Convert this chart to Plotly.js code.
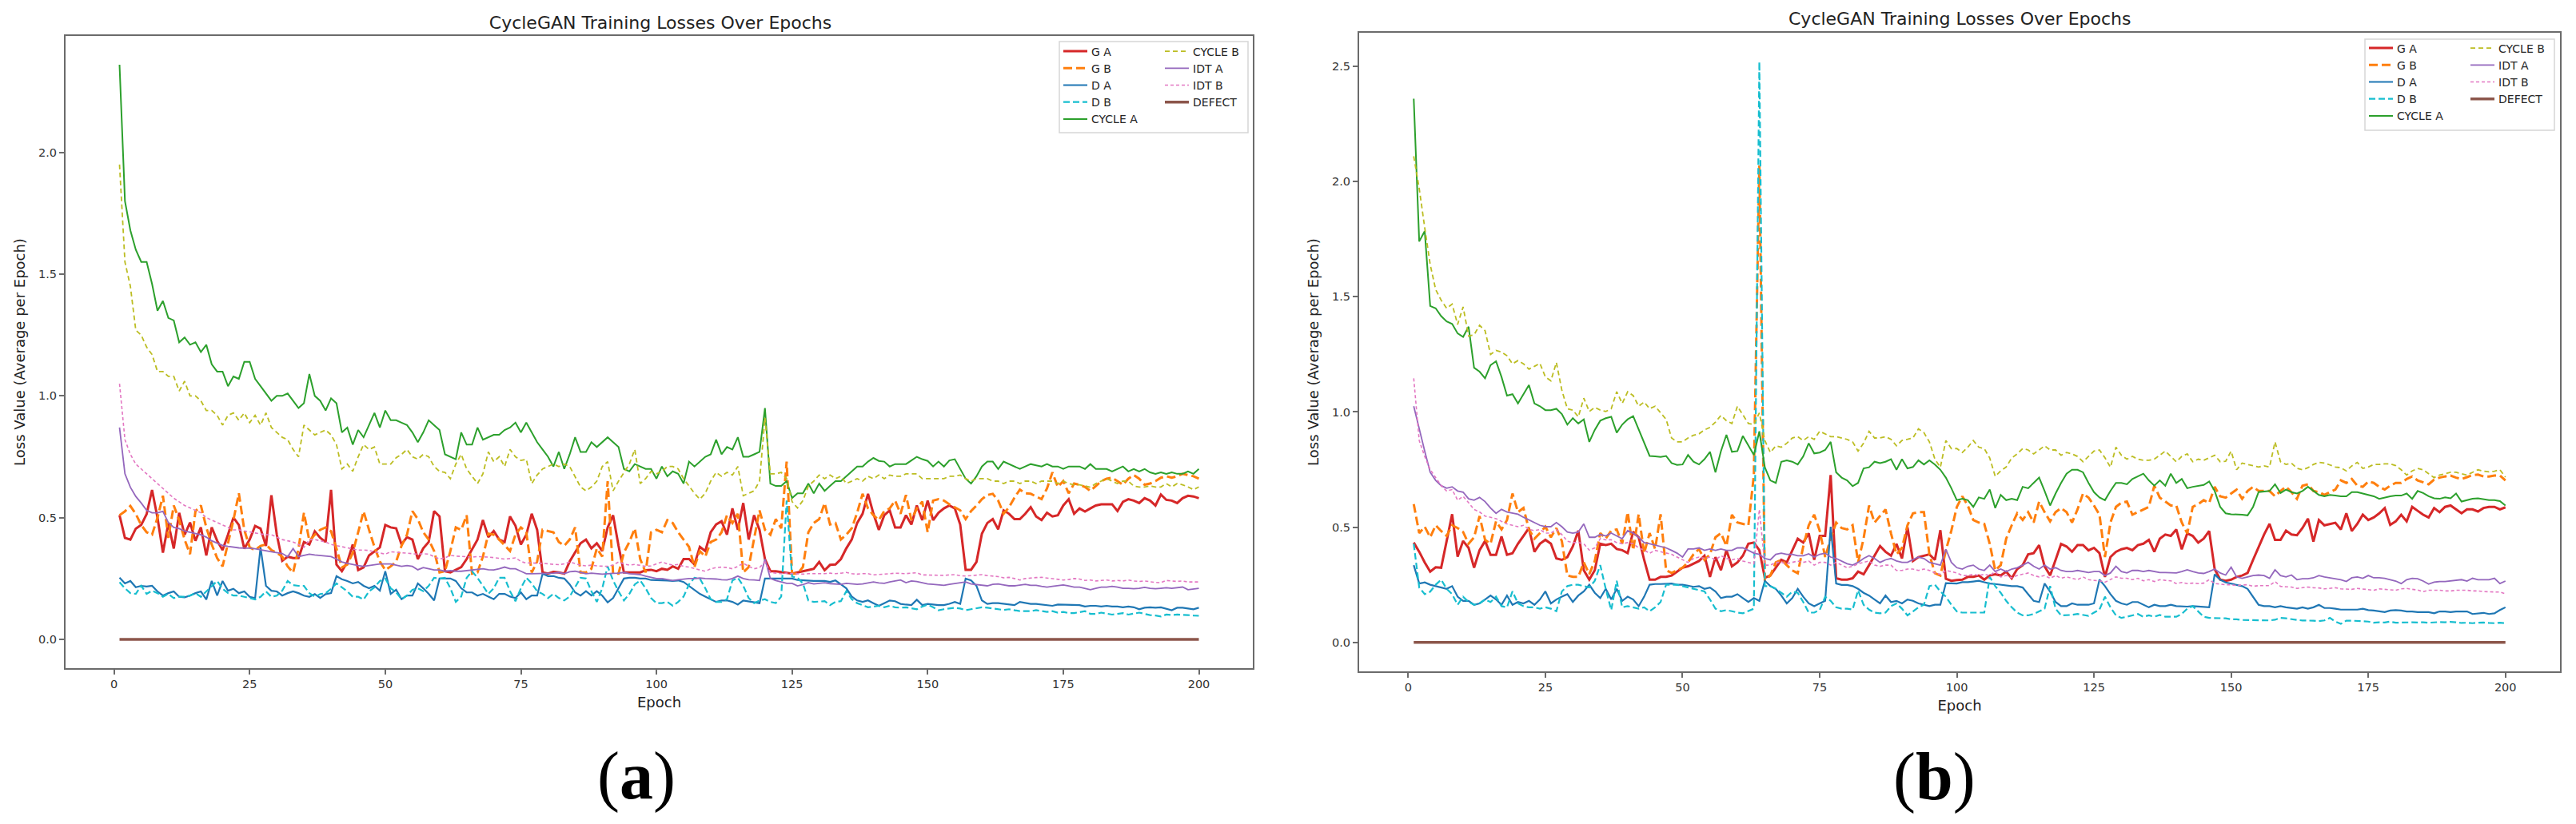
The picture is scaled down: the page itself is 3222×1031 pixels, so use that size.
<!DOCTYPE html>
<html>
<head>
<meta charset="utf-8">
<script src="https://cdn.plot.ly/plotly-3.0.1.min.js"></script>
<style>
html,body{margin:0;padding:0;background:#fff;}
#chart{width:3222px;height:1031px;}
</style>
</head>
<body>
<div id="chart"></div>
<script>
// ---------- data ----------
const epochs = Array.from({length: 200}, (_, i) => i + 1);

const seriesNames = ['G A','G B','D A','D B','CYCLE A','CYCLE B','IDT A','IDT B','DEFECT'];
const panelLabels = ['(a)','(b)'];
const chartTitle = 'CycleGAN Training Losses Over Epochs';
const xLabel = 'Epoch';
const yLabel = 'Loss Value (Average per Epoch)';

// ----- panel (a) -----
const aGA = [
0.51,0.417,0.41,0.455,0.47,0.515,0.614,0.50,0.356,0.477,
0.373,0.52,0.43,0.48,0.405,0.46,0.345,0.46,0.405,0.367,
0.43,0.50,0.47,0.373,0.41,0.466,0.455,0.384,0.592,0.43,
0.323,0.34,0.334,0.334,0.40,0.39,0.444,0.417,0.40,0.614,
0.307,0.28,0.318,0.39,0.285,0.296,0.345,0.362,0.378,0.47,
0.46,0.456,0.39,0.42,0.41,0.33,0.374,0.40,0.527,0.505,
0.28,0.275,0.286,0.297,0.33,0.368,0.41,0.49,0.42,0.445,
0.41,0.40,0.505,0.467,0.39,0.43,0.516,0.45,0.275,0.27,
0.277,0.275,0.27,0.32,0.357,0.395,0.41,0.374,0.395,0.363,
0.46,0.51,0.385,0.275,0.275,0.275,0.275,0.284,0.286,0.28,
0.29,0.286,0.30,0.29,0.33,0.33,0.308,0.38,0.363,0.44,
0.472,0.485,0.43,0.538,0.45,0.56,0.41,0.51,0.45,0.33,
0.28,0.28,0.277,0.275,0.27,0.275,0.28,0.286,0.29,0.318,
0.284,0.306,0.308,0.33,0.374,0.41,0.478,0.516,0.598,0.516,
0.45,0.51,0.53,0.46,0.46,0.51,0.472,0.55,0.49,0.57,
0.49,0.52,0.538,0.55,0.538,0.472,0.286,0.286,0.318,0.434,
0.478,0.494,0.452,0.53,0.516,0.494,0.494,0.516,0.543,0.505,
0.49,0.52,0.505,0.51,0.55,0.576,0.516,0.538,0.525,0.538,
0.55,0.555,0.555,0.555,0.527,0.565,0.576,0.57,0.56,0.58,
0.57,0.55,0.595,0.573,0.57,0.56,0.58,0.59,0.587,0.58];

const aGB = [
0.51,0.526,0.548,0.515,0.47,0.44,0.43,0.50,0.59,0.417,
0.55,0.49,0.41,0.35,0.526,0.55,0.46,0.39,0.334,0.30,
0.395,0.49,0.60,0.45,0.378,0.367,0.384,0.39,0.367,0.356,
0.34,0.30,0.274,0.373,0.52,0.405,0.43,0.45,0.46,0.444,
0.373,0.296,0.307,0.356,0.44,0.526,0.45,0.38,0.32,0.285,
0.30,0.32,0.385,0.43,0.527,0.494,0.44,0.41,0.363,0.275,
0.28,0.363,0.46,0.45,0.51,0.27,0.275,0.34,0.434,0.43,
0.41,0.385,0.363,0.43,0.46,0.44,0.275,0.32,0.45,0.445,
0.44,0.40,0.385,0.41,0.46,0.275,0.275,0.29,0.374,0.34,
0.65,0.27,0.27,0.357,0.40,0.456,0.33,0.275,0.44,0.45,
0.44,0.49,0.478,0.44,0.41,0.38,0.297,0.363,0.34,0.40,
0.41,0.44,0.51,0.478,0.516,0.275,0.297,0.41,0.53,0.45,
0.43,0.494,0.456,0.73,0.27,0.27,0.297,0.44,0.478,0.494,
0.56,0.472,0.478,0.41,0.43,0.456,0.52,0.598,0.538,0.51,
0.49,0.527,0.538,0.57,0.516,0.593,0.49,0.538,0.566,0.44,
0.57,0.576,0.57,0.555,0.543,0.53,0.494,0.527,0.55,0.576,
0.593,0.598,0.57,0.516,0.543,0.582,0.615,0.60,0.598,0.587,
0.576,0.62,0.686,0.626,0.65,0.60,0.64,0.635,0.626,0.61,
0.63,0.65,0.66,0.664,0.65,0.635,0.66,0.675,0.66,0.635,
0.64,0.65,0.664,0.67,0.664,0.67,0.68,0.675,0.67,0.66];

const aDA = [
0.254,0.23,0.24,0.214,0.22,0.217,0.22,0.197,0.18,0.19,
0.197,0.175,0.173,0.18,0.19,0.197,0.164,0.24,0.18,0.24,
0.20,0.208,0.19,0.197,0.175,0.17,0.378,0.22,0.20,0.197,
0.18,0.19,0.197,0.19,0.18,0.175,0.186,0.17,0.186,0.19,
0.26,0.247,0.24,0.23,0.236,0.22,0.21,0.22,0.20,0.28,
0.187,0.204,0.165,0.18,0.18,0.23,0.21,0.187,0.16,0.25,
0.25,0.25,0.24,0.21,0.193,0.193,0.18,0.187,0.176,0.165,
0.187,0.187,0.176,0.17,0.193,0.165,0.18,0.18,0.27,0.26,
0.26,0.253,0.25,0.226,0.193,0.18,0.198,0.18,0.198,0.18,
0.152,0.17,0.21,0.25,0.253,0.253,0.25,0.25,0.244,0.244,
0.242,0.242,0.24,0.242,0.236,0.22,0.204,0.187,0.176,0.165,
0.154,0.16,0.16,0.154,0.143,0.16,0.157,0.154,0.149,0.25,
0.25,0.25,0.25,0.25,0.25,0.244,0.242,0.242,0.24,0.24,
0.24,0.236,0.242,0.226,0.21,0.176,0.16,0.154,0.16,0.149,
0.138,0.149,0.16,0.157,0.146,0.143,0.141,0.163,0.141,0.146,
0.143,0.141,0.141,0.146,0.154,0.146,0.25,0.242,0.22,0.16,
0.146,0.149,0.149,0.146,0.143,0.141,0.154,0.149,0.146,0.146,
0.143,0.141,0.138,0.143,0.143,0.141,0.141,0.141,0.135,0.138,
0.138,0.135,0.138,0.135,0.135,0.132,0.135,0.132,0.124,0.13,
0.132,0.13,0.132,0.127,0.12,0.13,0.13,0.127,0.124,0.13];

const aDB = [
0.235,0.21,0.19,0.187,0.22,0.187,0.20,0.19,0.175,0.187,
0.17,0.175,0.175,0.18,0.19,0.175,0.197,0.22,0.24,0.208,
0.19,0.18,0.18,0.175,0.17,0.164,0.175,0.197,0.175,0.18,
0.20,0.24,0.223,0.22,0.22,0.19,0.175,0.186,0.19,0.208,
0.23,0.214,0.197,0.175,0.175,0.164,0.197,0.214,0.24,0.25,
0.21,0.193,0.165,0.18,0.204,0.21,0.198,0.22,0.253,0.25,
0.253,0.21,0.154,0.176,0.253,0.28,0.253,0.22,0.187,0.21,
0.253,0.253,0.198,0.157,0.21,0.253,0.23,0.198,0.187,0.17,
0.187,0.17,0.16,0.176,0.215,0.253,0.25,0.198,0.154,0.21,
0.30,0.242,0.198,0.16,0.187,0.226,0.242,0.21,0.17,0.149,
0.149,0.154,0.138,0.154,0.176,0.226,0.253,0.25,0.21,0.165,
0.154,0.154,0.165,0.242,0.253,0.22,0.17,0.149,0.16,0.165,
0.154,0.149,0.176,0.57,0.258,0.253,0.23,0.16,0.154,0.155,
0.157,0.141,0.154,0.157,0.198,0.165,0.149,0.141,0.132,0.135,
0.138,0.132,0.138,0.132,0.13,0.132,0.127,0.124,0.135,0.143,
0.132,0.12,0.124,0.127,0.13,0.127,0.12,0.124,0.127,0.132,
0.13,0.127,0.124,0.121,0.124,0.12,0.116,0.116,0.116,0.12,
0.116,0.113,0.116,0.11,0.113,0.108,0.108,0.113,0.116,0.105,
0.105,0.11,0.105,0.102,0.105,0.108,0.102,0.105,0.11,0.105,
0.10,0.098,0.094,0.102,0.10,0.102,0.102,0.10,0.098,0.097];

const aCA = [
2.36,1.80,1.68,1.60,1.55,1.55,1.46,1.35,1.39,1.32,
1.31,1.22,1.24,1.21,1.22,1.18,1.21,1.13,1.10,1.10,
1.04,1.08,1.07,1.14,1.14,1.07,1.04,1.01,0.98,1.00,
1.00,1.01,0.98,0.95,0.97,1.09,1.00,0.98,0.94,0.99,
0.97,0.85,0.87,0.80,0.86,0.83,0.88,0.93,0.87,0.94,
0.90,0.90,0.89,0.88,0.85,0.81,0.85,0.90,0.88,0.86,
0.76,0.75,0.74,0.85,0.80,0.80,0.87,0.82,0.83,0.84,
0.84,0.86,0.87,0.89,0.85,0.89,0.85,0.81,0.78,0.75,
0.71,0.77,0.70,0.76,0.83,0.77,0.77,0.81,0.79,0.81,
0.83,0.81,0.79,0.70,0.69,0.72,0.71,0.70,0.70,0.66,
0.71,0.67,0.69,0.68,0.64,0.73,0.71,0.73,0.75,0.76,
0.82,0.76,0.79,0.78,0.83,0.75,0.75,0.76,0.77,0.95,
0.64,0.63,0.63,0.65,0.58,0.60,0.60,0.64,0.60,0.64,
0.61,0.63,0.65,0.65,0.67,0.69,0.71,0.71,0.73,0.745,
0.733,0.73,0.71,0.72,0.72,0.72,0.735,0.75,0.74,0.733,
0.71,0.73,0.71,0.735,0.74,0.70,0.66,0.64,0.67,0.71,
0.73,0.73,0.70,0.73,0.72,0.71,0.70,0.71,0.72,0.715,
0.71,0.72,0.71,0.71,0.70,0.71,0.71,0.71,0.70,0.72,
0.70,0.70,0.70,0.69,0.70,0.71,0.69,0.70,0.69,0.70,
0.686,0.68,0.686,0.68,0.686,0.68,0.68,0.69,0.68,0.70];

const aCB = [
1.95,1.55,1.45,1.27,1.25,1.20,1.17,1.10,1.10,1.08,
1.08,1.02,1.06,1.00,1.00,0.98,0.94,0.94,0.92,0.88,
0.92,0.93,0.90,0.93,0.89,0.92,0.88,0.93,0.87,0.85,
0.83,0.82,0.78,0.75,0.88,0.86,0.84,0.85,0.86,0.84,
0.80,0.70,0.72,0.69,0.75,0.80,0.78,0.79,0.72,0.72,
0.72,0.746,0.76,0.78,0.75,0.74,0.76,0.75,0.71,0.69,
0.686,0.66,0.72,0.76,0.70,0.67,0.64,0.68,0.77,0.73,
0.75,0.71,0.78,0.75,0.735,0.74,0.64,0.675,0.70,0.71,
0.72,0.71,0.72,0.71,0.67,0.626,0.61,0.626,0.65,0.71,
0.73,0.61,0.65,0.686,0.72,0.78,0.64,0.66,0.69,0.68,
0.69,0.71,0.71,0.70,0.66,0.63,0.60,0.576,0.60,0.65,
0.686,0.67,0.686,0.675,0.71,0.59,0.60,0.61,0.65,0.91,
0.68,0.68,0.686,0.66,0.566,0.54,0.57,0.63,0.65,0.675,
0.66,0.675,0.66,0.67,0.64,0.65,0.66,0.65,0.67,0.66,
0.675,0.66,0.675,0.67,0.67,0.68,0.68,0.68,0.66,0.66,
0.66,0.66,0.66,0.67,0.67,0.675,0.66,0.65,0.66,0.66,
0.66,0.65,0.65,0.64,0.65,0.65,0.64,0.65,0.65,0.64,
0.65,0.65,0.65,0.64,0.65,0.64,0.635,0.635,0.63,0.625,
0.64,0.65,0.66,0.65,0.64,0.65,0.65,0.63,0.626,0.626,
0.63,0.626,0.626,0.64,0.626,0.64,0.635,0.626,0.615,0.626];

const aIA = [
0.87,0.68,0.625,0.587,0.56,0.53,0.52,0.52,0.526,0.48,
0.46,0.455,0.445,0.44,0.435,0.43,0.42,0.405,0.395,0.386,
0.382,0.378,0.376,0.375,0.375,0.372,0.367,0.364,0.36,0.356,
0.353,0.34,0.373,0.34,0.345,0.35,0.347,0.345,0.343,0.34,
0.33,0.318,0.312,0.307,0.303,0.30,0.303,0.307,0.31,0.31,
0.31,0.305,0.30,0.303,0.30,0.286,0.295,0.29,0.285,0.285,
0.28,0.283,0.28,0.28,0.282,0.285,0.288,0.29,0.286,0.285,
0.29,0.297,0.29,0.29,0.28,0.27,0.27,0.27,0.27,0.27,
0.272,0.275,0.27,0.278,0.28,0.275,0.27,0.272,0.27,0.268,
0.27,0.27,0.272,0.275,0.27,0.268,0.266,0.26,0.255,0.25,
0.25,0.245,0.242,0.245,0.248,0.25,0.25,0.252,0.25,0.25,
0.248,0.245,0.244,0.25,0.26,0.25,0.245,0.244,0.242,0.33,
0.25,0.242,0.236,0.23,0.23,0.22,0.225,0.233,0.228,0.23,
0.233,0.229,0.228,0.226,0.23,0.228,0.226,0.228,0.232,0.236,
0.232,0.23,0.236,0.24,0.244,0.233,0.24,0.238,0.232,0.228,
0.226,0.224,0.222,0.226,0.23,0.232,0.236,0.228,0.226,0.222,
0.22,0.226,0.228,0.224,0.22,0.22,0.224,0.226,0.222,0.222,
0.218,0.215,0.218,0.222,0.224,0.22,0.215,0.215,0.21,0.204,
0.21,0.215,0.215,0.218,0.215,0.21,0.21,0.208,0.21,0.214,
0.21,0.208,0.21,0.212,0.21,0.212,0.215,0.204,0.208,0.21];

const aIB = [
1.05,0.82,0.76,0.72,0.70,0.68,0.66,0.64,0.62,0.60,
0.58,0.565,0.55,0.54,0.53,0.52,0.50,0.49,0.48,0.47,
0.46,0.45,0.45,0.445,0.44,0.437,0.433,0.43,0.43,0.42,
0.41,0.405,0.40,0.39,0.378,0.41,0.41,0.405,0.40,0.39,
0.385,0.38,0.375,0.37,0.367,0.367,0.365,0.36,0.356,0.35,
0.36,0.358,0.355,0.352,0.35,0.35,0.352,0.35,0.34,0.33,
0.335,0.345,0.342,0.34,0.34,0.338,0.34,0.34,0.338,0.336,
0.332,0.33,0.332,0.335,0.32,0.313,0.315,0.312,0.313,0.31,
0.308,0.307,0.31,0.318,0.312,0.305,0.302,0.305,0.302,0.30,
0.30,0.305,0.318,0.31,0.305,0.308,0.305,0.30,0.302,0.31,
0.318,0.31,0.305,0.308,0.30,0.297,0.29,0.285,0.28,0.29,
0.295,0.297,0.295,0.29,0.30,0.313,0.30,0.29,0.295,0.318,
0.275,0.272,0.27,0.272,0.27,0.27,0.268,0.27,0.27,0.268,
0.27,0.272,0.27,0.272,0.275,0.27,0.268,0.27,0.27,0.265,
0.266,0.268,0.27,0.272,0.27,0.27,0.272,0.274,0.265,0.264,
0.264,0.262,0.263,0.265,0.266,0.262,0.26,0.262,0.265,0.266,
0.262,0.26,0.258,0.253,0.255,0.25,0.244,0.25,0.253,0.254,
0.255,0.252,0.25,0.248,0.244,0.246,0.25,0.248,0.242,0.244,
0.24,0.242,0.244,0.24,0.242,0.24,0.244,0.24,0.238,0.24,
0.236,0.234,0.233,0.242,0.24,0.238,0.24,0.236,0.236,0.236];

// ----- panel (b) -----
const bGA = [
0.433,0.393,0.347,0.307,0.326,0.324,0.44,0.556,0.372,0.44,
0.41,0.324,0.40,0.44,0.38,0.38,0.46,0.38,0.387,0.428,
0.462,0.496,0.393,0.428,0.445,0.428,0.364,0.358,0.37,0.416,
0.485,0.313,0.272,0.313,0.428,0.422,0.428,0.405,0.40,0.387,
0.48,0.456,0.358,0.272,0.272,0.284,0.284,0.29,0.307,0.324,
0.33,0.341,0.353,0.376,0.284,0.37,0.313,0.40,0.33,0.347,
0.376,0.428,0.433,0.40,0.28,0.29,0.324,0.358,0.347,0.399,
0.45,0.433,0.473,0.358,0.462,0.462,0.726,0.278,0.272,0.272,
0.278,0.307,0.295,0.335,0.376,0.418,0.393,0.376,0.427,0.364,
0.499,0.353,0.37,0.376,0.382,0.358,0.487,0.276,0.267,0.27,
0.272,0.284,0.284,0.29,0.272,0.29,0.295,0.29,0.307,0.278,
0.318,0.335,0.382,0.387,0.422,0.33,0.29,0.358,0.427,0.416,
0.393,0.422,0.422,0.399,0.41,0.387,0.284,0.37,0.393,0.404,
0.41,0.40,0.422,0.428,0.445,0.393,0.45,0.468,0.462,0.49,
0.404,0.473,0.462,0.433,0.45,0.483,0.318,0.272,0.267,0.272,
0.284,0.29,0.301,0.358,0.416,0.468,0.514,0.445,0.445,0.485,
0.468,0.465,0.496,0.537,0.437,0.531,0.508,0.514,0.519,0.49,
0.56,0.483,0.514,0.554,0.531,0.542,0.56,0.583,0.51,0.525,
0.554,0.525,0.588,0.571,0.554,0.542,0.583,0.565,0.588,0.594,
0.577,0.56,0.577,0.577,0.568,0.583,0.588,0.588,0.577,0.586];

const bGB = [
0.60,0.474,0.502,0.456,0.508,0.483,0.462,0.508,0.496,0.479,
0.428,0.456,0.548,0.445,0.428,0.525,0.49,0.531,0.646,0.565,
0.583,0.49,0.45,0.474,0.502,0.456,0.496,0.439,0.29,0.284,
0.284,0.347,0.296,0.353,0.474,0.45,0.485,0.49,0.428,0.565,
0.40,0.556,0.387,0.474,0.405,0.556,0.313,0.301,0.313,0.324,
0.347,0.382,0.405,0.358,0.382,0.456,0.474,0.418,0.554,0.52,
0.514,0.508,0.726,2.07,0.267,0.29,0.347,0.358,0.335,0.312,
0.30,0.416,0.508,0.554,0.485,0.37,0.45,0.52,0.496,0.49,
0.508,0.347,0.45,0.594,0.52,0.548,0.577,0.473,0.382,0.41,
0.508,0.56,0.565,0.565,0.382,0.30,0.29,0.399,0.485,0.588,
0.634,0.594,0.531,0.52,0.514,0.427,0.312,0.335,0.45,0.508,
0.56,0.531,0.565,0.52,0.611,0.565,0.525,0.565,0.583,0.565,
0.52,0.577,0.646,0.628,0.594,0.554,0.37,0.52,0.588,0.606,
0.611,0.554,0.565,0.577,0.588,0.68,0.628,0.611,0.594,0.594,
0.52,0.473,0.588,0.60,0.617,0.605,0.675,0.634,0.628,0.646,
0.663,0.623,0.657,0.675,0.657,0.657,0.657,0.634,0.657,0.675,
0.652,0.623,0.68,0.686,0.657,0.652,0.64,0.652,0.663,0.703,
0.692,0.709,0.68,0.675,0.698,0.692,0.675,0.663,0.68,0.692,
0.692,0.709,0.72,0.703,0.694,0.686,0.706,0.715,0.72,0.724,
0.715,0.709,0.717,0.726,0.728,0.72,0.72,0.724,0.724,0.703];

const bDA = [
0.335,0.255,0.26,0.25,0.244,0.238,0.232,0.244,0.198,0.18,
0.18,0.163,0.169,0.186,0.203,0.186,0.163,0.203,0.163,0.175,
0.169,0.18,0.163,0.186,0.221,0.169,0.186,0.198,0.209,0.175,
0.203,0.221,0.25,0.215,0.192,0.232,0.186,0.232,0.18,0.198,
0.186,0.157,0.198,0.25,0.253,0.253,0.255,0.255,0.25,0.25,
0.246,0.241,0.244,0.232,0.238,0.221,0.192,0.198,0.198,0.209,
0.192,0.175,0.192,0.18,0.267,0.244,0.232,0.203,0.169,0.192,
0.232,0.198,0.169,0.157,0.169,0.18,0.502,0.255,0.249,0.249,
0.244,0.232,0.215,0.203,0.186,0.169,0.203,0.175,0.18,0.169,
0.186,0.18,0.169,0.163,0.157,0.163,0.163,0.257,0.255,0.255,
0.261,0.261,0.264,0.267,0.261,0.255,0.253,0.25,0.247,0.244,
0.244,0.238,0.209,0.18,0.175,0.255,0.22,0.175,0.157,0.157,
0.169,0.163,0.163,0.163,0.169,0.272,0.244,0.209,0.18,0.169,
0.163,0.175,0.175,0.163,0.152,0.163,0.157,0.157,0.163,0.157,
0.155,0.155,0.157,0.155,0.155,0.152,0.295,0.272,0.26,0.255,
0.249,0.244,0.232,0.198,0.163,0.157,0.157,0.152,0.157,0.152,
0.149,0.146,0.152,0.146,0.152,0.163,0.149,0.149,0.146,0.142,
0.142,0.142,0.142,0.146,0.14,0.138,0.134,0.131,0.138,0.14,
0.138,0.134,0.134,0.131,0.131,0.131,0.126,0.134,0.134,0.131,
0.134,0.134,0.134,0.123,0.126,0.128,0.123,0.126,0.14,0.152];

const bDB = [
0.428,0.238,0.209,0.22,0.25,0.272,0.232,0.209,0.163,0.198,
0.175,0.163,0.169,0.186,0.175,0.198,0.157,0.152,0.221,0.169,
0.157,0.152,0.152,0.146,0.152,0.146,0.135,0.221,0.244,0.25,
0.25,0.244,0.238,0.267,0.335,0.232,0.14,0.267,0.152,0.157,
0.152,0.146,0.152,0.135,0.152,0.175,0.25,0.25,0.25,0.244,
0.238,0.232,0.226,0.221,0.186,0.146,0.135,0.14,0.135,0.129,
0.126,0.135,0.146,2.52,0.244,0.244,0.232,0.215,0.198,0.22,
0.215,0.175,0.129,0.129,0.14,0.198,0.18,0.152,0.146,0.146,
0.142,0.226,0.163,0.142,0.129,0.126,0.129,0.157,0.169,0.146,
0.117,0.134,0.152,0.163,0.244,0.25,0.221,0.198,0.163,0.134,
0.129,0.129,0.129,0.129,0.129,0.284,0.244,0.215,0.18,0.152,
0.129,0.117,0.117,0.123,0.134,0.146,0.244,0.146,0.117,0.117,
0.119,0.123,0.119,0.115,0.129,0.142,0.198,0.152,0.117,0.106,
0.111,0.117,0.123,0.111,0.117,0.111,0.119,0.111,0.111,0.111,
0.123,0.146,0.157,0.134,0.111,0.106,0.106,0.104,0.104,0.10,
0.10,0.097,0.097,0.097,0.097,0.095,0.095,0.098,0.106,0.104,
0.10,0.097,0.095,0.095,0.094,0.092,0.095,0.106,0.09,0.08,
0.094,0.094,0.092,0.092,0.09,0.085,0.087,0.086,0.09,0.085,
0.086,0.088,0.087,0.086,0.087,0.085,0.087,0.088,0.087,0.089,
0.087,0.084,0.085,0.083,0.085,0.086,0.084,0.083,0.085,0.083];

const bCA = [
2.36,1.74,1.785,1.46,1.45,1.416,1.393,1.382,1.341,1.326,
1.37,1.192,1.175,1.146,1.203,1.22,1.152,1.071,1.077,1.037,
1.077,1.117,1.037,1.025,1.008,1.008,1.014,0.991,0.945,0.973,
0.95,0.968,0.87,0.922,0.962,0.973,0.979,0.91,0.945,0.968,
0.982,0.922,0.864,0.809,0.807,0.805,0.809,0.778,0.77,0.772,
0.813,0.784,0.772,0.795,0.827,0.738,0.83,0.901,0.827,0.83,
0.896,0.853,0.813,0.916,0.76,0.703,0.692,0.784,0.79,0.784,
0.772,0.807,0.864,0.82,0.824,0.835,0.87,0.738,0.715,0.703,
0.678,0.692,0.755,0.76,0.784,0.778,0.784,0.795,0.749,0.795,
0.755,0.761,0.79,0.772,0.79,0.772,0.749,0.715,0.669,0.617,
0.623,0.617,0.588,0.629,0.623,0.663,0.583,0.64,0.617,0.623,
0.617,0.675,0.669,0.692,0.715,0.657,0.594,0.646,0.692,0.732,
0.749,0.749,0.738,0.692,0.652,0.629,0.617,0.657,0.692,0.692,
0.686,0.709,0.72,0.732,0.703,0.68,0.703,0.68,0.732,0.692,
0.709,0.669,0.675,0.68,0.683,0.698,0.657,0.588,0.56,0.556,
0.556,0.554,0.551,0.588,0.652,0.655,0.657,0.686,0.648,0.663,
0.652,0.646,0.657,0.675,0.657,0.64,0.634,0.64,0.637,0.634,
0.634,0.652,0.652,0.646,0.64,0.634,0.623,0.629,0.634,0.637,
0.637,0.646,0.623,0.657,0.648,0.634,0.625,0.623,0.629,0.625,
0.646,0.611,0.617,0.623,0.625,0.62,0.617,0.617,0.613,0.594];

const bCB = [
2.11,1.97,1.80,1.64,1.531,1.485,1.45,1.468,1.38,1.456,
1.33,1.335,1.376,1.353,1.25,1.267,1.26,1.244,1.209,1.223,
1.209,1.186,1.198,1.211,1.152,1.135,1.215,1.094,1.014,1.008,
0.979,1.06,1.002,1.02,1.008,1.002,1.014,1.088,1.037,1.088,
1.071,1.025,1.043,1.014,1.025,0.996,0.968,0.887,0.87,0.87,
0.887,0.899,0.905,0.922,0.933,0.956,0.985,0.962,0.95,1.025,
0.985,0.95,0.945,0.996,0.876,0.824,0.853,0.847,0.864,0.887,
0.893,0.876,0.893,0.881,0.916,0.905,0.893,0.893,0.887,0.881,
0.87,0.83,0.864,0.916,0.887,0.887,0.893,0.881,0.853,0.876,
0.881,0.887,0.927,0.91,0.87,0.795,0.76,0.876,0.841,0.841,
0.824,0.847,0.876,0.847,0.841,0.80,0.72,0.744,0.761,0.80,
0.818,0.841,0.835,0.818,0.835,0.853,0.835,0.835,0.812,0.824,
0.818,0.807,0.784,0.807,0.83,0.835,0.801,0.76,0.847,0.812,
0.795,0.807,0.795,0.79,0.79,0.795,0.812,0.83,0.807,0.784,
0.807,0.818,0.784,0.795,0.79,0.801,0.812,0.784,0.786,0.83,
0.749,0.778,0.772,0.766,0.761,0.766,0.761,0.87,0.784,0.772,
0.778,0.755,0.749,0.758,0.772,0.781,0.778,0.77,0.761,0.758,
0.744,0.766,0.781,0.755,0.761,0.772,0.772,0.775,0.775,0.767,
0.749,0.726,0.744,0.755,0.749,0.732,0.715,0.726,0.732,0.738,
0.738,0.732,0.726,0.738,0.749,0.743,0.74,0.743,0.749,0.717];

const bIA = [
1.025,0.922,0.83,0.738,0.703,0.68,0.669,0.675,0.657,0.652,
0.623,0.617,0.629,0.611,0.583,0.56,0.577,0.566,0.56,0.556,
0.543,0.531,0.52,0.508,0.502,0.502,0.52,0.502,0.479,0.474,
0.479,0.514,0.456,0.456,0.468,0.462,0.474,0.462,0.45,0.485,
0.474,0.456,0.433,0.428,0.422,0.416,0.41,0.399,0.387,0.37,
0.405,0.405,0.41,0.399,0.405,0.399,0.405,0.399,0.399,0.41,
0.41,0.399,0.387,0.382,0.364,0.358,0.382,0.387,0.382,0.382,
0.376,0.376,0.384,0.37,0.382,0.387,0.37,0.364,0.353,0.341,
0.335,0.347,0.364,0.376,0.364,0.347,0.358,0.364,0.353,0.347,
0.347,0.358,0.37,0.364,0.347,0.341,0.335,0.404,0.347,0.324,
0.318,0.33,0.335,0.318,0.312,0.335,0.307,0.318,0.307,0.318,
0.324,0.335,0.347,0.33,0.318,0.335,0.318,0.324,0.312,0.307,
0.307,0.312,0.307,0.303,0.307,0.307,0.29,0.301,0.33,0.307,
0.301,0.312,0.312,0.307,0.312,0.307,0.303,0.303,0.301,0.301,
0.307,0.315,0.307,0.301,0.299,0.307,0.318,0.301,0.292,0.326,
0.284,0.278,0.284,0.29,0.292,0.29,0.278,0.315,0.29,0.284,
0.292,0.272,0.276,0.276,0.28,0.29,0.284,0.28,0.278,0.272,
0.264,0.28,0.284,0.278,0.29,0.28,0.28,0.278,0.272,0.266,
0.255,0.272,0.278,0.276,0.266,0.253,0.261,0.264,0.264,0.267,
0.27,0.272,0.266,0.278,0.272,0.272,0.272,0.278,0.255,0.266];

const bIB = [
1.146,0.876,0.807,0.75,0.715,0.68,0.657,0.663,0.617,0.634,
0.606,0.577,0.566,0.548,0.543,0.537,0.525,0.514,0.508,0.502,
0.508,0.49,0.485,0.49,0.474,0.474,0.49,0.468,0.439,0.433,
0.433,0.428,0.40,0.41,0.45,0.445,0.445,0.433,0.428,0.433,
0.428,0.41,0.40,0.387,0.399,0.393,0.387,0.382,0.37,0.358,
0.347,0.364,0.37,0.364,0.37,0.358,0.376,0.364,0.358,0.364,
0.353,0.347,0.341,0.577,0.335,0.335,0.347,0.347,0.341,0.347,
0.353,0.347,0.353,0.335,0.347,0.347,0.335,0.347,0.335,0.324,
0.33,0.341,0.347,0.353,0.335,0.33,0.335,0.335,0.312,0.312,
0.318,0.318,0.312,0.318,0.312,0.301,0.295,0.312,0.307,0.301,
0.29,0.29,0.295,0.29,0.295,0.29,0.307,0.284,0.29,0.28,
0.29,0.295,0.301,0.29,0.284,0.29,0.278,0.29,0.278,0.284,
0.278,0.272,0.284,0.272,0.269,0.267,0.261,0.272,0.284,0.278,
0.278,0.272,0.278,0.267,0.272,0.264,0.272,0.269,0.267,0.255,
0.26,0.255,0.257,0.255,0.257,0.272,0.255,0.253,0.25,0.25,
0.246,0.249,0.25,0.243,0.246,0.246,0.246,0.264,0.243,0.241,
0.24,0.234,0.236,0.24,0.237,0.236,0.232,0.234,0.237,0.232,
0.23,0.23,0.234,0.232,0.23,0.226,0.232,0.23,0.228,0.226,
0.232,0.234,0.23,0.227,0.22,0.226,0.226,0.226,0.223,0.223,
0.226,0.226,0.226,0.223,0.223,0.22,0.22,0.218,0.218,0.211];

// DEFECT loss is zero in every epoch (both runs)
const defect = [
0,0,0,0,0,0,0,0,0,0, 0,0,0,0,0,0,0,0,0,0,
0,0,0,0,0,0,0,0,0,0, 0,0,0,0,0,0,0,0,0,0,
0,0,0,0,0,0,0,0,0,0, 0,0,0,0,0,0,0,0,0,0,
0,0,0,0,0,0,0,0,0,0, 0,0,0,0,0,0,0,0,0,0,
0,0,0,0,0,0,0,0,0,0, 0,0,0,0,0,0,0,0,0,0,
0,0,0,0,0,0,0,0,0,0, 0,0,0,0,0,0,0,0,0,0,
0,0,0,0,0,0,0,0,0,0, 0,0,0,0,0,0,0,0,0,0,
0,0,0,0,0,0,0,0,0,0, 0,0,0,0,0,0,0,0,0,0,
0,0,0,0,0,0,0,0,0,0, 0,0,0,0,0,0,0,0,0,0,
0,0,0,0,0,0,0,0,0,0, 0,0,0,0,0,0,0,0,0,0];

const xTicks = [0,25,50,75,100,125,150,175,200];

// ---------- styling ----------
const W = 3222, H = 1031;
const styles = [
  {color:'#d62728', width:3.0, dash:'solid'},
  {color:'#ff7f0e', width:3.0, dash:'11px,5px'},
  {color:'#1f77b4', width:2.2, dash:'solid'},
  {color:'#17becf', width:2.2, dash:'8px,4px'},
  {color:'#2ca02c', width:2.0, dash:'solid'},
  {color:'#bcbd22', width:1.8, dash:'6px,4px'},
  {color:'#9467bd', width:1.8, dash:'solid'},
  {color:'#e377c2', width:1.6, dash:'4px,3px'},
  {color:'#8c564b', width:3.6, dash:'solid'}
];

const panelA = [aGA,aGB,aDA,aDB,aCA,aCB,aIA,aIB,defect];
const panelB = [bGA,bGB,bDA,bDB,bCA,bCB,bIA,bIB,defect];

const traces = [];
function addPanel(data, xa, ya, legA, legB) {
  data.forEach((ys, i) => {
    traces.push({
      type:'scatter', mode:'lines', x: epochs, y: ys,
      name: seriesNames[i],
      xaxis: xa, yaxis: ya,
      legend: i < 5 ? legA : legB,
      line: {color: styles[i].color, width: styles[i].width, dash: styles[i].dash},
      hoverinfo: 'skip'
    });
  });
}
addPanel(panelA, 'x', 'y', 'legend', 'legend2');
addPanel(panelB, 'x2', 'y2', 'legend3', 'legend4');

const FONT = 'DejaVu Sans, Noto Sans, sans-serif';
const axBase = {
  showline:true, mirror:true, linecolor:'#6b6b6b', linewidth:2,
  ticks:'outside', ticklen:6, tickwidth:1.5, tickcolor:'#6b6b6b',
  showgrid:false, zeroline:false, fixedrange:true,
  tickfont:{family:FONT, size:14.5, color:'#333'}
};
function px(x){ return x / W; }
function py(y){ return 1 - y / H; }

function xAxis(l, r, anchor) {
  return Object.assign({}, axBase, {
    domain:[px(l), px(r)], range:[-8.95, 209.95], anchor: anchor,
    tickmode:'array', tickvals: xTicks, ticktext: xTicks.map(String),
    title:{text: xLabel, font:{family:FONT, size:18, color:'#222'}, standoff: 9}
  });
}
function yAxis(t, b, range, anchor) {
  return Object.assign({}, axBase, {
    domain:[py(b), py(t)], range: range, anchor: anchor,
    tick0:0, dtick:0.5, tickformat:'.1f',
    title:{text: yLabel, font:{family:FONT, size:18, color:'#222'}, standoff: 12}
  });
}

const legFont = {family:FONT, size:14, color:'#262626'};
function leg(xLeft, yTop) {
  return {x:px(xLeft), y:py(yTop), xanchor:'left', yanchor:'top', orientation:'v',
          bgcolor:'rgba(0,0,0,0)', borderwidth:0, font:legFont, itemwidth:30,
          tracegroupgap:0, itemclick:false, itemdoubleclick:false};
}

const layout = {
  width: W, height: H,
  margin:{l:0, r:0, t:0, b:0, pad:0},
  paper_bgcolor:'#ffffff', plot_bgcolor:'#ffffff',
  showlegend:true,
  title:{text: chartTitle, x: px(826), y: py(28), xref:'paper', yref:'paper',
         xanchor:'center', yanchor:'middle', font:{family:FONT, size:22, color:'#222'}},
  xaxis: xAxis(82, 1567, 'y'),
  yaxis: yAxis(45, 836, [-0.118, 2.478], 'x'),
  xaxis2: xAxis(1700, 3202, 'y2'),
  yaxis2: yAxis(41, 840, [-0.126, 2.646], 'x2'),
  legend: leg(1325, 48.5),
  legend2: leg(1452, 48.5),
  legend3: leg(2958, 44.5),
  legend4: leg(3085, 44.5),
  shapes: [
    {type:'rect', xref:'paper', yref:'paper', x0:px(1325), x1:px(1561), y0:py(166), y1:py(52),
     line:{color:'#d6d6d6', width:1.5}, fillcolor:'rgba(255,255,255,0.85)', layer:'below'},
    {type:'rect', xref:'paper', yref:'paper', x0:px(2958), x1:px(3195), y0:py(163), y1:py(49),
     line:{color:'#d6d6d6', width:1.5}, fillcolor:'rgba(255,255,255,0.85)', layer:'below'}
  ],
  annotations: [
    {text: chartTitle, xref:'paper', yref:'paper', x: px(2451), y: py(24),
     xanchor:'center', yanchor:'middle', showarrow:false,
     font:{family:FONT, size:22, color:'#222'}},
    {text: '(<b>a</b>)', xref:'paper', yref:'paper', x: px(796), y: py(971),
     xanchor:'center', yanchor:'middle', showarrow:false,
     font:{family:'Liberation Serif, Times New Roman, serif', size:84, color:'#000'}},
    {text: '(<b>b</b>)', xref:'paper', yref:'paper', x: px(2419), y: py(972),
     xanchor:'center', yanchor:'middle', showarrow:false,
     font:{family:'Liberation Serif, Times New Roman, serif', size:84, color:'#000'}}
  ]
};

Plotly.newPlot('chart', traces, layout, {displayModeBar:false, responsive:false});
</script>
</body>
</html>
